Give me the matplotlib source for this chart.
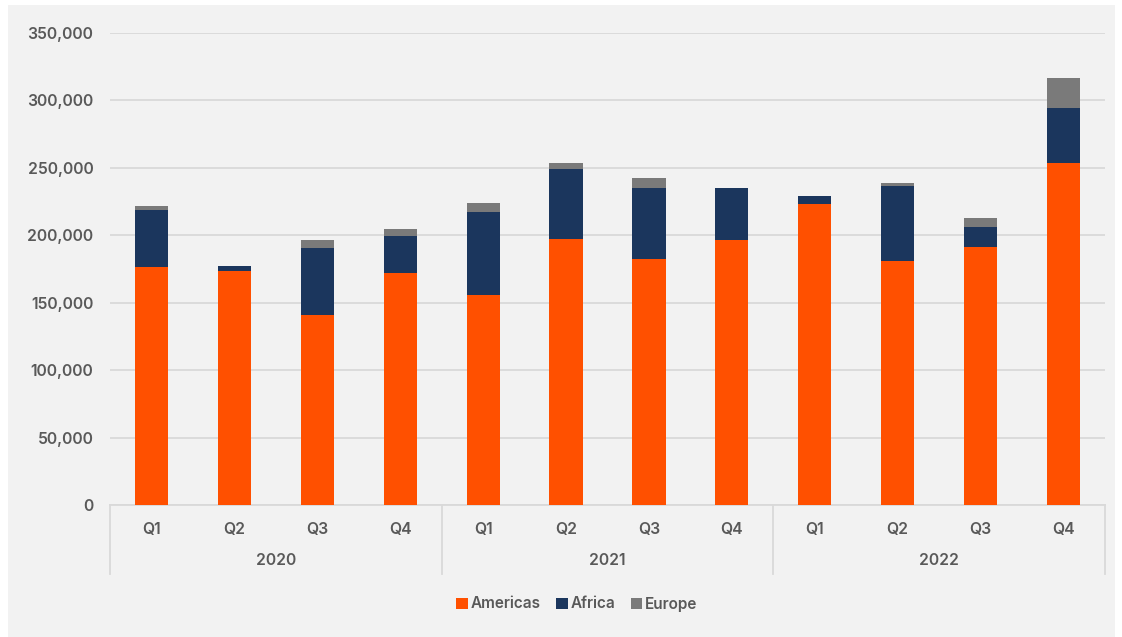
import matplotlib.pyplot as plt
import numpy as np
from matplotlib.patches import Rectangle

plt.rcParams['font.family'] = ['Inter', 'DejaVu Sans']
plt.rcParams['font.weight'] = 'semibold'

years = ['2020', '2021', '2022']
quarters = ['Q1', 'Q2', 'Q3', 'Q4'] * 3

americas = [176500, 173500, 140700, 172000, 155700, 197200, 182400, 196500, 223200, 181000, 191300, 253600]
africa = [42500, 3700, 50100, 27700, 61300, 51800, 52900, 38800, 5800, 55800, 15100, 40600]
europe = [2700, 0, 5700, 5000, 7200, 4800, 6900, 0, 0, 1700, 6200, 22400]

c_am = '#FF5000'
c_af = '#1B365D'
c_eu = '#7A7A7A'
txt = '#595959'
grid = '#D9D9D9'

fig = plt.figure(figsize=(11.22, 6.37), dpi=100, facecolor='white')
# light grey panel behind the chart
fig.patches.append(Rectangle((8 / 1122, 0), 1107 / 1122, 632 / 637, transform=fig.transFigure,
                             facecolor='#F2F2F2', edgecolor='none', zorder=-5))

ax = fig.add_axes([110 / 1122, 132 / 637, 995 / 1122, 472 / 637])
ax.set_facecolor('none')

x = np.arange(len(americas))
w = 0.4
am = np.array(americas)
af = np.array(africa)
eu = np.array(europe)
ax.bar(x, am, w, color=c_am, label='Americas', zorder=3)
ax.bar(x, af, w, bottom=am, color=c_af, label='Africa', zorder=3)
ax.bar(x, eu, w, bottom=am + af, color=c_eu, label='Europe', zorder=3)

ax.set_xlim(-0.5, len(x) - 0.5)
ax.set_ylim(0, 350000)
ax.set_yticks(np.arange(0, 350001, 50000))
ax.set_yticklabels([f'{v:,}' for v in range(0, 350001, 50000)])
ax.yaxis.grid(True, color=grid, linewidth=1.3, zorder=0)
ax.tick_params(axis='y', length=0, pad=12, labelsize=11.3, labelcolor=txt)
for s in ['top', 'right', 'left']:
    ax.spines[s].set_visible(False)
ax.spines['bottom'].set_color(grid)
ax.spines['bottom'].set_linewidth(1.3)

ax.set_xticks(x)
ax.set_xticklabels(quarters)
ax.tick_params(axis='x', length=0, pad=12, labelsize=11.3, labelcolor=txt)

# year group labels and separators
for i, yr in enumerate(years):
    ax.text(i * 4 + 1.5, -0.118, yr, transform=ax.get_xaxis_transform(), ha='center', va='center',
            fontsize=11.3, color=txt)
for b in [-0.5, 3.5, 7.5, 11.5]:
    ax.plot([b, b], [0, -0.147], transform=ax.get_xaxis_transform(), color=grid, linewidth=1.3,
            clip_on=False)

fig.legend(loc='center', bbox_to_anchor=(577 / 1122, 1 - 604 / 637), ncol=3, frameon=False,
           handlelength=0.75, handleheight=0.75, handletextpad=0.2, columnspacing=1.0,
           prop={'size': 11, 'weight': 'semibold'}, labelcolor=txt)

fig.savefig('out.png', dpi=100)
